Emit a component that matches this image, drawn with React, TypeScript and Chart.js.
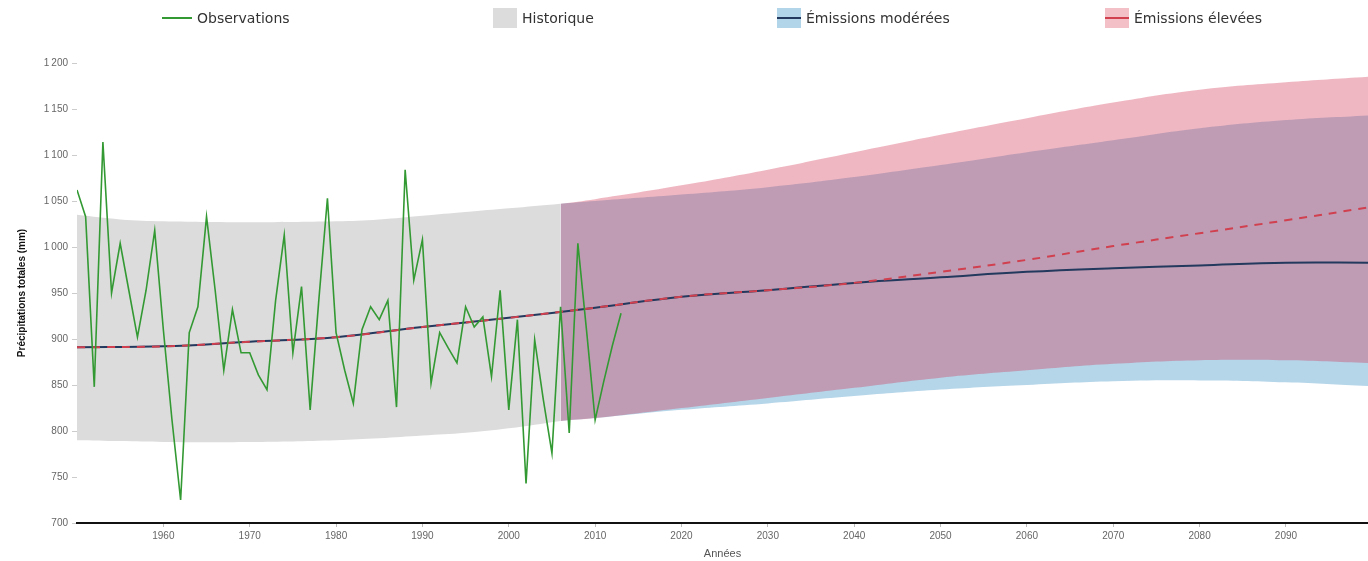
import React, { useEffect, useRef } from "react";
import { Chart, registerables } from "chart.js";

Chart.register(...registerables);

const obsYears = [
  1950, 1951, 1952, 1953, 1954, 1955, 1956, 1957, 1958, 1959,
  1960, 1961, 1962, 1963, 1964, 1965, 1966, 1967, 1968, 1969,
  1970, 1971, 1972, 1973, 1974, 1975, 1976, 1977, 1978, 1979,
  1980, 1981, 1982, 1983, 1984, 1985, 1986, 1987, 1988, 1989,
  1990, 1991, 1992, 1993, 1994, 1995, 1996, 1997, 1998, 1999,
  2000, 2001, 2002, 2003, 2004, 2005, 2006, 2007, 2008, 2009,
  2010, 2011, 2012, 2013,
];
const obsValues = [
  1062, 1033, 848, 1114, 950, 1004, 953, 902, 953, 1018,
  910, 812, 725, 907, 935, 1033, 953, 866, 932, 885,
  885, 861, 845, 942, 1013, 885, 957, 823, 942, 1053,
  907, 866, 830, 910, 935, 921, 942, 826, 1084, 964,
  1008, 852, 907, 890, 874, 935, 913, 924, 859, 953,
  823, 921, 743, 899, 834, 776, 935, 798, 1004, 910,
  812, 854, 893, 928,
];

const histYears = [1950, 1955, 1960, 1970, 1980, 1985, 1990, 1995, 2000, 2006];
const histUpper = [1035, 1030, 1028, 1027, 1028, 1030, 1034, 1038, 1042, 1047];
const histLower = [790, 789, 788, 788, 790, 792, 795, 798, 803, 811];

const futYears = [2006, 2010, 2020, 2030, 2040, 2050, 2060, 2070, 2080, 2090, 2099.5];
const modUpper = [1047, 1050, 1057, 1065, 1076, 1089, 1103, 1116, 1129, 1138, 1143];
const modLower = [811, 814, 823, 830, 838, 845, 850, 854, 855, 853, 849];
const eleUpper = [1047, 1052, 1067, 1084, 1103, 1122, 1140, 1157, 1171, 1179, 1185];
const eleLower = [811, 814, 825, 836, 847, 858, 866, 873, 877, 877, 874];

const medYears = [1950, 1960, 1970, 1980, 1990, 2000, 2010, 2020, 2030, 2040, 2050, 2060, 2070, 2080, 2090, 2099.5];
const modMedian = [891, 892, 897, 902, 913, 923, 934, 946, 953, 961, 967, 973, 977, 980, 983, 983];
const eleMedian = [891, 892, 897, 902, 913, 923, 934, 946, 953, 961, 973, 986, 1001, 1015, 1029, 1043];

const xTicks = [1960, 1970, 1980, 1990, 2000, 2010, 2020, 2030, 2040, 2050, 2060, 2070, 2080, 2090];
const yMin = 700;
const yMax = 1200;
const yStep = 50;

const legendItems = [
  { label: "Observations", kind: "line", line: "#339933", box: "", left: 162 },
  { label: "Historique", kind: "box", line: "", box: "#dcdcdc", left: 493 },
  { label: "Émissions modérées", kind: "both", line: "#23395d", box: "#b3d5ea", left: 777 },
  { label: "Émissions élevées", kind: "both", line: "#d0404f", box: "#f3c0c8", left: 1105 },
];

const pts = (xs: number[], ys: number[]) => xs.map((x, i) => ({ x, y: ys[i] }));
const FONT = "Liberation Sans, Arial, sans-serif";

export default function App() {
  const ref = useRef<HTMLCanvasElement>(null);
  useEffect(() => {
    if (!ref.current) return;
    const band = (label: string, data: any, bg: string | null) => ({
      label,
      data,
      borderWidth: 0,
      borderColor: "rgba(0,0,0,0)",
      backgroundColor: bg || "rgba(0,0,0,0)",
      pointRadius: 0,
      tension: 0.4,
      fill: bg ? "+1" : false,
    });
    const chart = new Chart(ref.current, {
      type: "line",
      data: {
        datasets: [
          {
            label: "Observations",
            data: pts(obsYears, obsValues),
            borderColor: "#339933",
            borderWidth: 1.6,
            pointRadius: 0,
            tension: 0,
            fill: false,
          },
          {
            label: "Élevées médiane",
            data: pts(medYears, eleMedian),
            borderColor: "#d0404f",
            borderWidth: 2,
            borderDash: [8, 7],
            pointRadius: 0,
            tension: 0.4,
            fill: false,
          },
          {
            label: "Modérées médiane",
            data: pts(medYears, modMedian),
            borderColor: "#23395d",
            borderWidth: 2,
            pointRadius: 0,
            tension: 0.4,
            fill: false,
          },
          band("ele upper", pts(futYears, eleUpper), "rgba(210,50,80,0.35)"),
          band("ele lower", pts(futYears, eleLower), null),
          band("mod upper", pts(futYears, modUpper), "rgba(70,150,200,0.4)"),
          band("mod lower", pts(futYears, modLower), null),
          band("hist upper", pts(histYears, histUpper), "#dcdcdc"),
          band("hist lower", pts(histYears, histLower), null),
        ],
      },
      options: {
        responsive: false,
        animation: false,
        locale: "fr-FR",
        layout: { padding: { top: 63, right: 0, bottom: 0, left: 0 } },
        plugins: {
          legend: { display: false },
          tooltip: { enabled: false },
        },
        scales: {
          x: {
            type: "linear",
            min: 1950,
            max: 2099.5,
            afterBuildTicks: (s: any) => {
              s.ticks = xTicks.map((v) => ({ value: v }));
            },
            afterFit: (s: any) => {
              s.height = 38;
            },
            border: { display: true, color: "#111", width: 2 },
            grid: { display: true, drawOnChartArea: false, tickLength: 4, color: "#bbb" },
            ticks: {
              callback: (v: any) => String(v),
              color: "#666",
              font: { size: 10, family: FONT },
              padding: 3,
              maxRotation: 0,
              autoSkip: false,
            },
            title: {
              display: true,
              text: "Années",
              color: "#555",
              font: { size: 11, family: FONT },
              padding: { top: 2, bottom: 0 },
            },
          },
          y: {
            min: yMin,
            max: yMax,
            afterFit: (s: any) => {
              s.width = 77;
            },
            border: { display: false },
            grid: { display: true, drawOnChartArea: false, tickLength: 5, color: "#ccc" },
            ticks: {
              stepSize: yStep,
              color: "#666",
              font: { size: 10, family: FONT },
              padding: 4,
            },
            title: {
              display: true,
              text: "Précipitations totales (mm)",
              color: "#111",
              font: { size: 10, weight: "bold", family: FONT },
              padding: { top: 16, bottom: 0 },
            },
          },
        },
      },
    });
    return () => chart.destroy();
  }, []);

  return (
    <div style={{ position: "fixed", left: 0, top: 0, width: 1368, height: 561, background: "#fff", overflow: "hidden" }}>
      <canvas ref={ref} width={1368} height={561} style={{ position: "absolute", left: 0, top: 0 }} />
      {legendItems.map((it) => (
        <div
          key={it.label}
          style={{
            position: "absolute",
            left: it.left,
            top: 8,
            height: 20,
            display: "flex",
            alignItems: "center",
            fontFamily: "DejaVu Sans, sans-serif",
            fontSize: 14,
            color: "#333",
            whiteSpace: "nowrap",
          }}
        >
          {it.kind === "line" ? (
            <div style={{ width: 30, height: 2, background: it.line, marginRight: 5 }} />
          ) : (
            <div
              style={{
                width: 24,
                height: 20,
                background: it.box,
                marginRight: 5,
                display: "flex",
                alignItems: "center",
              }}
            >
              {it.kind === "both" ? <div style={{ width: 24, height: 2, background: it.line }} /> : null}
            </div>
          )}
          <span>{it.label}</span>
        </div>
      ))}
    </div>
  );
}
